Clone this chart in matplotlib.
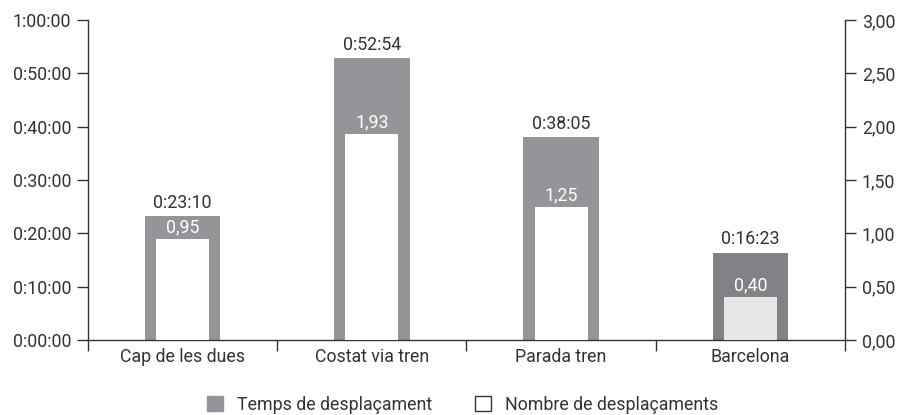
import matplotlib
matplotlib.use("Agg")
import matplotlib.pyplot as plt
from matplotlib.patches import Patch
import numpy as np

categories = ["Cap de les dues", "Costat via tren", "Parada tren", "Barcelona"]
time_labels = ["0:23:10", "0:52:54", "0:38:05", "0:16:23"]
count_values = [0.95, 1.93, 1.25, 0.40]
count_labels = ["0,95", "1,93", "1,25", "0,40"]
left_ticks = ["0:00:00", "0:10:00", "0:20:00", "0:30:00", "0:40:00", "0:50:00", "1:00:00"]
right_ticks = ["0,00", "0,50", "1,00", "1,50", "2,00", "2,50", "3,00"]

def to_min(s):
    h, m, sec = [int(p) for p in s.split(":")]
    return h * 60 + m + sec / 60.0

time_values = [to_min(t) for t in time_labels]

plt.rcParams['font.family'] = ['Roboto', 'DejaVu Sans']
txt = '#333333'
gray = '#939598'
gray_dark = '#808285'
inner_light = '#e6e7e8'
fs = 12.8

fig = plt.figure(figsize=(8.99, 4.15), dpi=100)
ax = fig.add_axes([88/899, 75/415, (845-88)/899, 320/415])
ax2 = ax.twinx()

x = np.arange(len(categories))
gcolors = [gray, gray, gray, gray_dark]
icolors = ['white', 'white', 'white', inner_light]

ax.bar(x, time_values, width=0.40, color=gcolors, zorder=2)
ax.set_ylim(0, 60)
ax.set_xlim(-0.5, len(categories) - 0.5)
ax2.set_ylim(0, 3)
ax2.bar(x, count_values, width=0.28, color=icolors, zorder=3)

for xi, tv, tl in zip(x, time_values, time_labels):
    ax.annotate(tl, (xi, tv), xytext=(0, 3), textcoords='offset points',
                ha='center', va='bottom', fontsize=fs, color=txt)
for xi, cv, cl in zip(x, count_values, count_labels):
    ax2.annotate(cl, (xi, cv), xytext=(0, 2), textcoords='offset points',
                 ha='center', va='bottom', fontsize=fs, color='white', zorder=5)

ax.set_yticks(np.arange(0, 61, 10))
ax.set_yticklabels(left_ticks)
ax2.set_yticks(np.arange(0, 3.01, 0.5))
ax2.set_yticklabels(right_ticks)

ax.set_xticks(np.arange(-0.5, len(categories)), minor=False)
ax.set_xticklabels([])
ax.set_xticks(x, minor=True)
ax.set_xticklabels(categories, minor=True)
ax.tick_params(axis='x', which='major', direction='out', length=8, width=1, color=txt, pad=4)
ax.tick_params(axis='x', which='minor', length=0, pad=6, labelsize=fs, labelcolor=txt)
ax.tick_params(axis='y', direction='out', length=8, width=1, color=txt, labelsize=fs, labelcolor=txt, pad=4)
ax2.tick_params(axis='y', direction='out', length=8, width=1, color=txt, labelsize=fs, labelcolor=txt, pad=4)

for a in (ax, ax2):
    a.spines['top'].set_visible(False)
    for s in ('left', 'right', 'bottom'):
        a.spines[s].set_color(txt)
        a.spines[s].set_linewidth(1)
ax2.spines['left'].set_visible(False)
ax2.spines['bottom'].set_visible(False)
ax.spines['right'].set_visible(False)

handles = [Patch(facecolor=gray, edgecolor=gray), Patch(facecolor='white', edgecolor=txt, linewidth=1)]
fig.legend(handles, ["Temps de desplaçament", "Nombre de desplaçaments"], loc='lower center',
           bbox_to_anchor=(0.515, -0.035), ncol=2, frameon=False, fontsize=fs,
           handlelength=0.9, handleheight=0.9, columnspacing=2.4, handletextpad=0.8,
           labelcolor=txt)

fig.savefig("out.png", dpi=100)
